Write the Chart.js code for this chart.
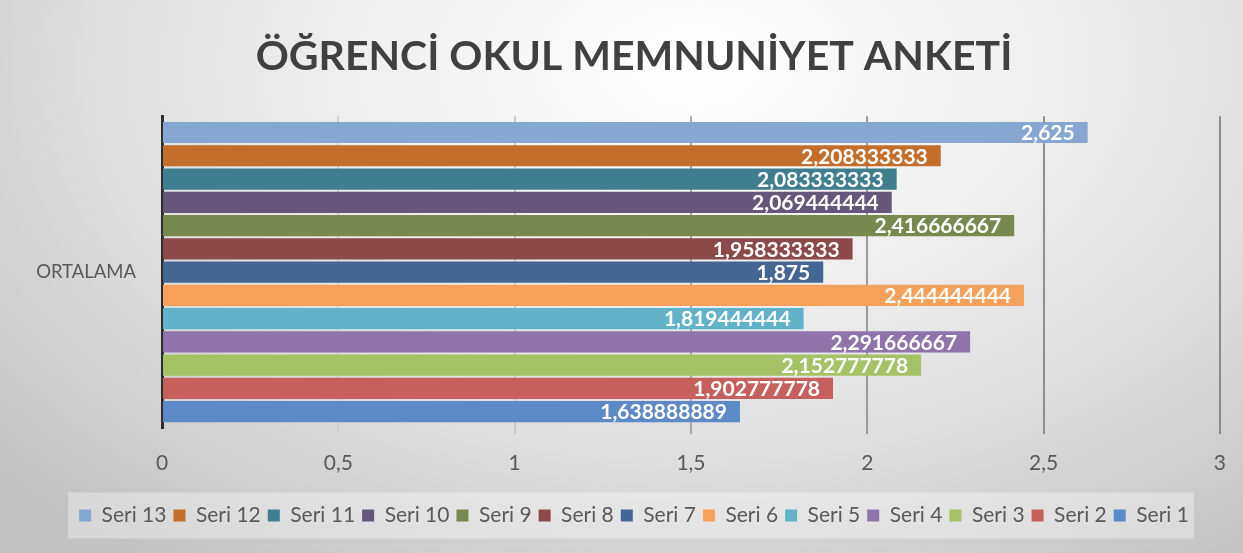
<!DOCTYPE html>
<html lang="tr">
<head>
<meta charset="UTF-8" />
<title>Öğrenci Okul Memnuniyet Anketi</title>
<style>
  * { margin: 0; padding: 0; }
  body {
    width: 1243px;
    height: 553px;
    overflow: hidden;
    background: radial-gradient(ellipse 75% 110% at 56% 12%, #ffffff 0%, #f0f0f0 35%, #dedede 65%, #c2c2c2 100%);
  }
  .chartBox { width: 1243px; height: 553px; position: relative; }
</style>
</head>
<body>
<div class="chartBox">
  <canvas id="myChart"></canvas>
</div>

<script src="https://cdn.jsdelivr.net/npm/chart.js"></script>
<script>
// data
const categories = ["ORTALAMA"];
const seriesNames = ["Seri 13", "Seri 12", "Seri 11", "Seri 10", "Seri 9", "Seri 8", "Seri 7",
                     "Seri 6", "Seri 5", "Seri 4", "Seri 3", "Seri 2", "Seri 1"];
const seriesValues = [2.625, 2.208333333, 2.083333333, 2.069444444, 2.416666667, 1.958333333, 1.875,
                      2.444444444, 1.819444444, 2.291666667, 2.152777778, 1.902777778, 1.638888889];
const xTicks = [0, 0.5, 1, 1.5, 2, 2.5, 3];

const seriesColors = ["#86A7D1", "#C26F2D", "#3F7E8E", "#665679", "#77894E", "#8B4949", "#436692",
                      "#F6A15B", "#62B3CA", "#8E74AB", "#A5C266", "#C6605C", "#5B8AC6"];

const fmt = v => String(v).replace(".", ",");

// white value labels inside the bar end
const barLabels = {
  id: "barLabels",
  afterDatasetsDraw(chart) {
    const { ctx } = chart;
    ctx.save();
    ctx.font = "bold 21px Lato";
    ctx.fillStyle = "#ffffff";
    ctx.textAlign = "right";
    ctx.textBaseline = "middle";
    chart.data.datasets.forEach((ds, i) => {
      chart.getDatasetMeta(i).data.forEach((bar, j) => {
        ctx.fillText(fmt(ds.data[j]), bar.x - 13, bar.y + 1);
      });
    });
    ctx.restore();
  }
};

// light panel behind the legend
const legendPanel = {
  id: "legendPanel",
  beforeDraw(chart) {
    const boxes = chart.legend && chart.legend.legendHitBoxes;
    if (!boxes || !boxes.length) return;
    const l = Math.min(...boxes.map(b => b.left)) - 11;
    const r = Math.max(...boxes.map(b => b.left + b.width)) + 5;
    const mid = boxes[0].top + boxes[0].height / 2;
    const { ctx } = chart;
    ctx.save();
    ctx.fillStyle = "rgba(255,255,255,0.35)";
    ctx.fillRect(l, mid - 23, r - l, 46);
    ctx.restore();
  }
};

const gridColors = ["rgba(0,0,0,0)", "#cfcfcf", "#c8c8c8", "#a9a9a9", "#9a9a9a", "#8e8e8e", "#8a8a8a"];

const data = {
  labels: categories,
  datasets: seriesNames.map((name, i) => ({
    label: name,
    data: [seriesValues[i]],
    backgroundColor: seriesColors[i],
    borderWidth: 0,
    barPercentage: 0.91,
    categoryPercentage: 0.97
  }))
};

const config = {
  type: "bar",
  data,
  options: {
    indexAxis: "y",
    responsive: true,
    maintainAspectRatio: false,
    animation: false,
    layout: { padding: { left: 25, right: 0, top: 0, bottom: 17 } },
    scales: {
      x: {
        min: 0,
        max: 3,
        afterBuildTicks: s => { s.ticks = xTicks.map(v => ({ value: v })); },
        afterFit: s => { s.height = 70; },
        grid: {
          color: ctx => gridColors[ctx.index] || "#999",
          lineWidth: 2,
          tickLength: 6,
          drawTicks: true
        },
        border: { display: false },
        ticks: {
          color: "#595959",
          font: { family: "Lato", size: 21 },
          padding: 17,
          callback: v => fmt(v)
        }
      },
      y: {
        grid: { display: false },
        border: { color: "#2e2e2e", width: 3 },
        afterFit: s => { s.width = 137; },
        ticks: {
          color: "#595959",
          font: { family: "Lato", size: 18.5 },
          padding: 18
        }
      },
      // empty right-hand axis, only keeps the plot's right margin
      yRight: {
        type: "linear",
        position: "right",
        grid: { display: false },
        border: { display: false },
        ticks: { display: false },
        afterFit: s => { s.width = 21; }
      }
    },
    plugins: {
      title: {
        display: true,
        text: "ÖĞRENCİ OKUL MEMNUNİYET ANKETİ",
        color: "#404040",
        font: { family: "Lato", size: 41, weight: "bold" },
        padding: { top: 32, bottom: 35 }
      },
      legend: {
        position: "bottom",
        labels: {
          color: "#595959",
          font: { family: "Lato", size: 21 },
          boxWidth: 12,
          boxHeight: 12,
          padding: 7
        }
      },
      tooltip: { enabled: false }
    }
  },
  plugins: [barLabels, legendPanel]
};

const myChart = new Chart(document.getElementById("myChart"), config);
</script>
</body>
</html>
